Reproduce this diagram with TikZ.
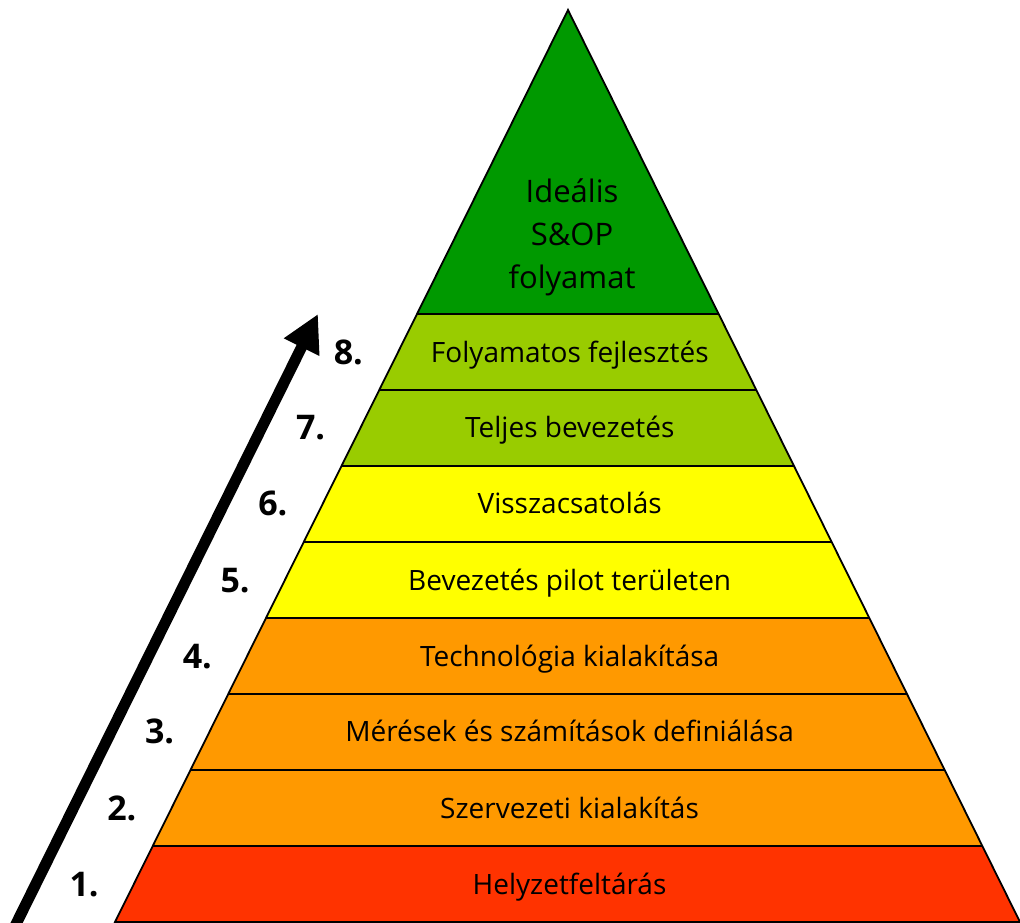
\documentclass[tikz,border=0pt]{standalone}
\usepackage{fontspec}
\setmainfont{Open Sans}
\usetikzlibrary{calc,arrows.meta}
\definecolor{peakgreen}{HTML}{009900}
\definecolor{limegreen}{HTML}{99CC00}
\definecolor{brightyellow}{HTML}{FFFF00}
\definecolor{amber}{HTML}{FF9900}
\definecolor{scarlet}{HTML}{FF3300}
\begin{document}
\begin{tikzpicture}[x=1pt,y=-1pt,
  edge/.style={line width=1.8pt,line join=miter},
  stagelabel/.style={anchor=base,inner sep=0pt,font=\fontsize{28}{32}\selectfont},
  stagenum/.style={anchor=base east,inner sep=0pt,font=\fontsize{34}{38}\selectfont\bfseries},
  peaklabel/.style={align=center,inner sep=0pt,font=\fontsize{31}{43}\selectfont},
  progress/.style={line width=11pt,-{Triangle[length=37pt,width=37pt]}}]
\useasboundingbox (0,0) rectangle (1020,923);

% pyramid corners
\coordinate (apex) at (568,10);
\coordinate (bl) at (115,922);
\coordinate (br) at (1020,922);

% layer boundaries and layer mid-heights on both flanks
\foreach \i in {4,...,11} {
  \coordinate (L\i) at ($(apex)!{\i/12}!(bl)$);
  \coordinate (R\i) at ($(apex)!{\i/12}!(br)$);
  \coordinate (LM\i) at ($(apex)!{(\i+0.5)/12}!(bl)$);
  \coordinate (RM\i) at ($(apex)!{(\i+0.5)/12}!(br)$);
  \coordinate (C\i) at ($(LM\i)!0.5!(RM\i)$);
}
\coordinate (L12) at (bl);
\coordinate (R12) at (br);

% fills
\fill[peakgreen] (apex) -- (L4) -- (R4) -- cycle;
\foreach \a/\col in {4/limegreen,5/limegreen,6/brightyellow,7/brightyellow,
                     8/amber,9/amber,10/amber,11/scarlet} {
  \pgfmathtruncatemacro\b{\a+1}
  \fill[\col] (L\a) -- (R\a) -- (R\b) -- (L\b) -- cycle;
}

% separators and outline
\foreach \a in {4,...,11} \draw[edge] (L\a) -- (R\a);
\draw[edge] (apex) -- (bl) -- (br) -- cycle;

% peak text
\node[peaklabel] (peak) at (572,237) {Ideális\\S\&OP\\folyamat};

% stage labels and their numbers
\foreach \a/\n/\txt in {4/8/Folyamatos fejlesztés,
                        5/7/Teljes bevezetés,
                        6/6/Visszacsatolás,
                        7/5/Bevezetés pilot területen,
                        8/4/Technológia kialakítása,
                        9/3/Mérések és számítások definiálása,
                        10/2/Szervezeti kialakítás,
                        11/1/Helyzetfeltárás} {
  \node[stagelabel] (stage\n) at ($(C\a)+(2,10)$) {\txt};
  \node[stagenum] (num\n) at ($(LM\a)+(-35,12)$) {\n.};
}

% progress arrow
\coordinate (arrowfoot) at (10.6,935);
\coordinate (arrowtip) at (318,314);
\draw[progress] (arrowfoot) -- (arrowtip);
\end{tikzpicture}
\end{document}
